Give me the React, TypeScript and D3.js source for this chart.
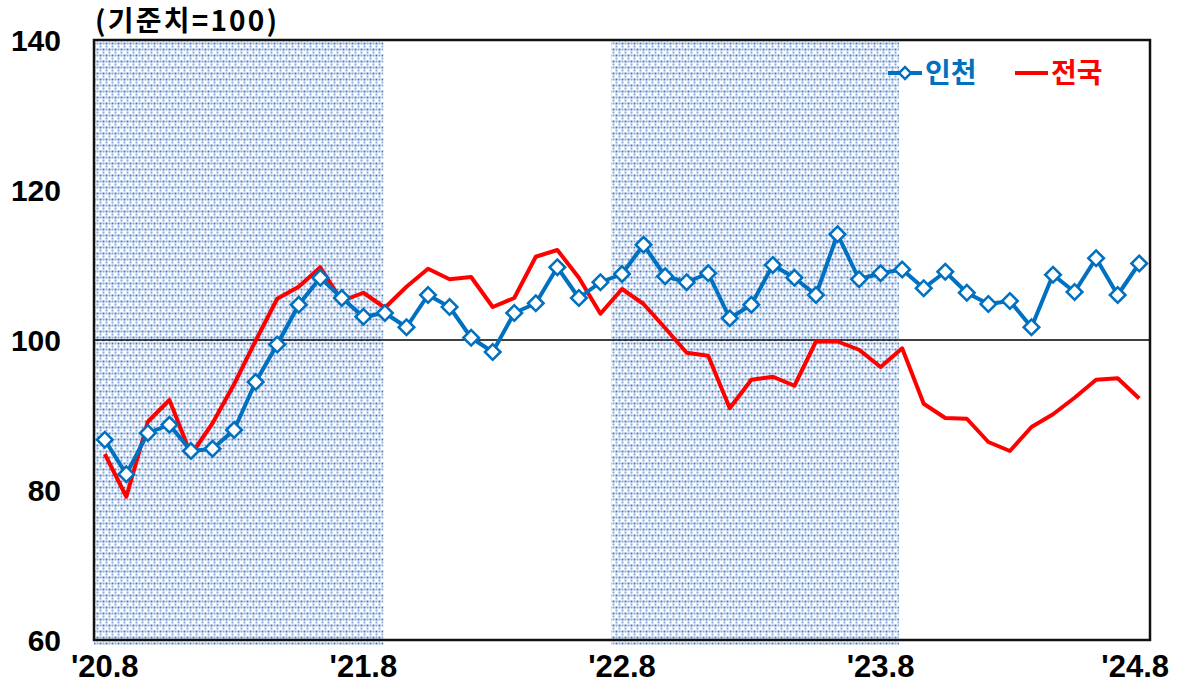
import React, { useRef, useEffect } from "react";
import * as d3 from "d3";

// months '20.8 ~ '24.8 (49 points)
const months = d3.range(49).map((i) => {
  const y = 20 + Math.floor((7 + i) / 12);
  const m = ((7 + i) % 12) + 1;
  return `'${y}.${m}`;
});

const tickLabels = ["'20.8", "'21.8", "'22.8", "'23.8", "'24.8"];
const yTicks = [60, 80, 100, 120, 140];

const incheon = [
  86.7, 82.1, 87.6, 88.7, 85.2, 85.5, 88.0, 94.4, 99.4, 104.7, 108.3, 105.6,
  103.1, 103.6, 101.7, 106.0, 104.4, 100.3, 98.4, 103.6, 104.9, 109.7, 105.6,
  107.7, 108.8, 112.7, 108.5, 107.7, 108.9, 102.9, 104.7, 110.0, 108.3, 106.0,
  114.1, 108.1, 108.9, 109.4, 106.9, 109.1, 106.3, 104.8, 105.2, 101.7, 108.7,
  106.4, 110.9, 106.0, 110.2,
];

const nation = [
  84.8, 79.1, 89.1, 92.0, 84.7, 88.9, 94.1, 99.9, 105.5, 107.1, 109.7, 105.2,
  106.3, 104.3, 107.1, 109.5, 108.1, 108.4, 104.4, 105.6, 111.1, 112.0, 108.3,
  103.5, 106.8, 104.8, 101.6, 98.3, 97.9, 90.9, 94.7, 95.1, 93.9, 99.8, 99.8,
  98.7, 96.4, 98.9, 91.5, 89.6, 89.5, 86.4, 85.2, 88.4, 90.1, 92.3, 94.7, 94.9,
  92.2,
];

// shaded periods, in month-index units
const shaded = [
  [-0.5, 12.93],
  [23.5, 36.85],
];

const W = 1185;
const H = 685;
const plot = { left: 94, top: 40, right: 1150, bottom: 640 };
const BLUE = "#0070C0";
const RED = "#FF0000";
const FONT = "'Liberation Sans', Arial, 'Noto Sans CJK KR', sans-serif";
const KFONT = "'Noto Sans CJK KR', 'Liberation Sans', sans-serif";

const App: React.FC = () => {
  const svgRef = useRef<SVGSVGElement | null>(null);

  useEffect(() => {
    if (!svgRef.current) return;
    const svg = d3.select(svgRef.current);
    svg.selectAll("*").remove();

    const x = d3
      .scalePoint<string>()
      .domain(months)
      .range([plot.left, plot.right])
      .padding(0.5);
    const xi = d3
      .scaleLinear()
      .domain([-0.5, months.length - 0.5])
      .range([plot.left, plot.right]);
    const y = d3
      .scaleLinear()
      .domain([60, 140])
      .range([plot.bottom, plot.top]);

    // dotted fill pattern
    const defs = svg.append("defs");
    const pat = defs
      .append("pattern")
      .attr("id", "dots")
      .attr("patternUnits", "userSpaceOnUse")
      .attr("width", 12)
      .attr("height", 12);
    pat.append("rect").attr("width", 12).attr("height", 12).attr("fill", "#fff");
    const dots = [
      [1.5, 1.5, 0.95],
      [4.5, 1.5, 0.6],
      [7.5, 1.5, 0.95],
      [10.5, 1.5, 0.6],
      [1.5, 4.5, 0.6],
      [7.5, 4.5, 0.6],
      [4.5, 7.5, 0.95],
      [1.5, 7.5, 0.6],
      [10.5, 7.5, 0.95],
      [7.5, 7.5, 0.6],
      [4.5, 10.5, 0.6],
      [10.5, 10.5, 0.6],
    ];
    pat
      .selectAll("rect.d")
      .data(dots)
      .enter()
      .append("rect")
      .attr("class", "d")
      .attr("x", (d) => d[0] - 1)
      .attr("y", (d) => d[1] - 1)
      .attr("width", 2)
      .attr("height", 2)
      .attr("fill", "#3A70C0")
      .attr("opacity", (d) => d[2]);

    svg
      .append("g")
      .selectAll("rect")
      .data(shaded)
      .enter()
      .append("rect")
      .attr("x", (d) => xi(d[0]))
      .attr("width", (d) => xi(d[1]) - xi(d[0]))
      .attr("y", plot.top)
      .attr("height", plot.bottom - plot.top + 5)
      .attr("fill", "url(#dots)");

    // 100 reference line
    svg
      .append("line")
      .attr("x1", plot.left)
      .attr("x2", plot.right)
      .attr("y1", y(100))
      .attr("y2", y(100))
      .attr("stroke", "#000")
      .attr("stroke-width", 1.3);

    // frame
    svg
      .append("rect")
      .attr("x", plot.left)
      .attr("y", plot.top)
      .attr("width", plot.right - plot.left)
      .attr("height", plot.bottom - plot.top)
      .attr("fill", "none")
      .attr("stroke", "#111")
      .attr("stroke-width", 2.5);

    // y ticks
    svg
      .append("g")
      .selectAll("text")
      .data(yTicks)
      .enter()
      .append("text")
      .attr("x", 61)
      .attr("y", (d) => y(d))
      .attr("dy", "0.36em")
      .attr("text-anchor", "end")
      .attr("font-family", FONT)
      .attr("font-weight", "bold")
      .attr("font-size", 30)
      .text((d) => d);

    // x ticks
    svg
      .append("g")
      .selectAll("text")
      .data(tickLabels)
      .enter()
      .append("text")
      .attr("x", (d, i) => (x(d) as number) - (i === tickLabels.length - 1 ? 4 : 0))
      .attr("y", 677)
      .attr("text-anchor", "middle")
      .attr("font-family", FONT)
      .attr("font-weight", "bold")
      .attr("font-size", 31)
      .text((d) => d);

    // title
    svg
      .append("text")
      .attr("x", 95)
      .attr("y", 31)
      .attr("font-family", KFONT)
      .attr("font-weight", "bold")
      .attr("font-size", 28)
      .attr("letter-spacing", 2.2)
      .text("(기준치=100)");

    const line = d3
      .line<number>()
      .x((_, i) => x(months[i]) as number)
      .y((d) => y(d));

    svg
      .append("path")
      .datum(nation)
      .attr("d", line)
      .attr("fill", "none")
      .attr("stroke", RED)
      .attr("stroke-width", 4)
      .attr("stroke-linejoin", "round");

    svg
      .append("path")
      .datum(incheon)
      .attr("d", line)
      .attr("fill", "none")
      .attr("stroke", BLUE)
      .attr("stroke-width", 4)
      .attr("stroke-linejoin", "round");

    const diamond = d3.symbol().type(d3.symbolSquare).size(120);
    svg
      .append("g")
      .selectAll("path")
      .data(incheon)
      .enter()
      .append("path")
      .attr("d", diamond)
      .attr(
        "transform",
        (d, i) => `translate(${x(months[i])},${y(d)}) rotate(45)`
      )
      .attr("fill", "#fff")
      .attr("stroke", BLUE)
      .attr("stroke-width", 2.6);

    // legend
    const lg = svg.append("g").attr("transform", "translate(0,73)");
    lg.append("line")
      .attr("x1", 888)
      .attr("x2", 922)
      .attr("stroke", BLUE)
      .attr("stroke-width", 4);
    lg.append("path")
      .attr("d", d3.symbol().type(d3.symbolSquare).size(70))
      .attr("transform", "translate(905,0) rotate(45)")
      .attr("fill", "#fff")
      .attr("stroke", BLUE)
      .attr("stroke-width", 2.5);
    lg.append("text")
      .attr("x", 925)
      .attr("dy", "0.36em")
      .attr("font-family", KFONT)
      .attr("font-weight", "bold")
      .attr("font-size", 28)
      .attr("fill", BLUE)
      .text("인천");
    lg.append("line")
      .attr("x1", 1015)
      .attr("x2", 1048)
      .attr("stroke", RED)
      .attr("stroke-width", 4);
    lg.append("text")
      .attr("x", 1051)
      .attr("dy", "0.36em")
      .attr("font-family", KFONT)
      .attr("font-weight", "bold")
      .attr("font-size", 28)
      .attr("fill", RED)
      .text("전국");
  }, []);

  return (
    <svg
      ref={svgRef}
      width={W}
      height={H}
      style={{ position: "absolute", left: 0, top: 0, background: "#fff" }}
    />
  );
};

export default App;
